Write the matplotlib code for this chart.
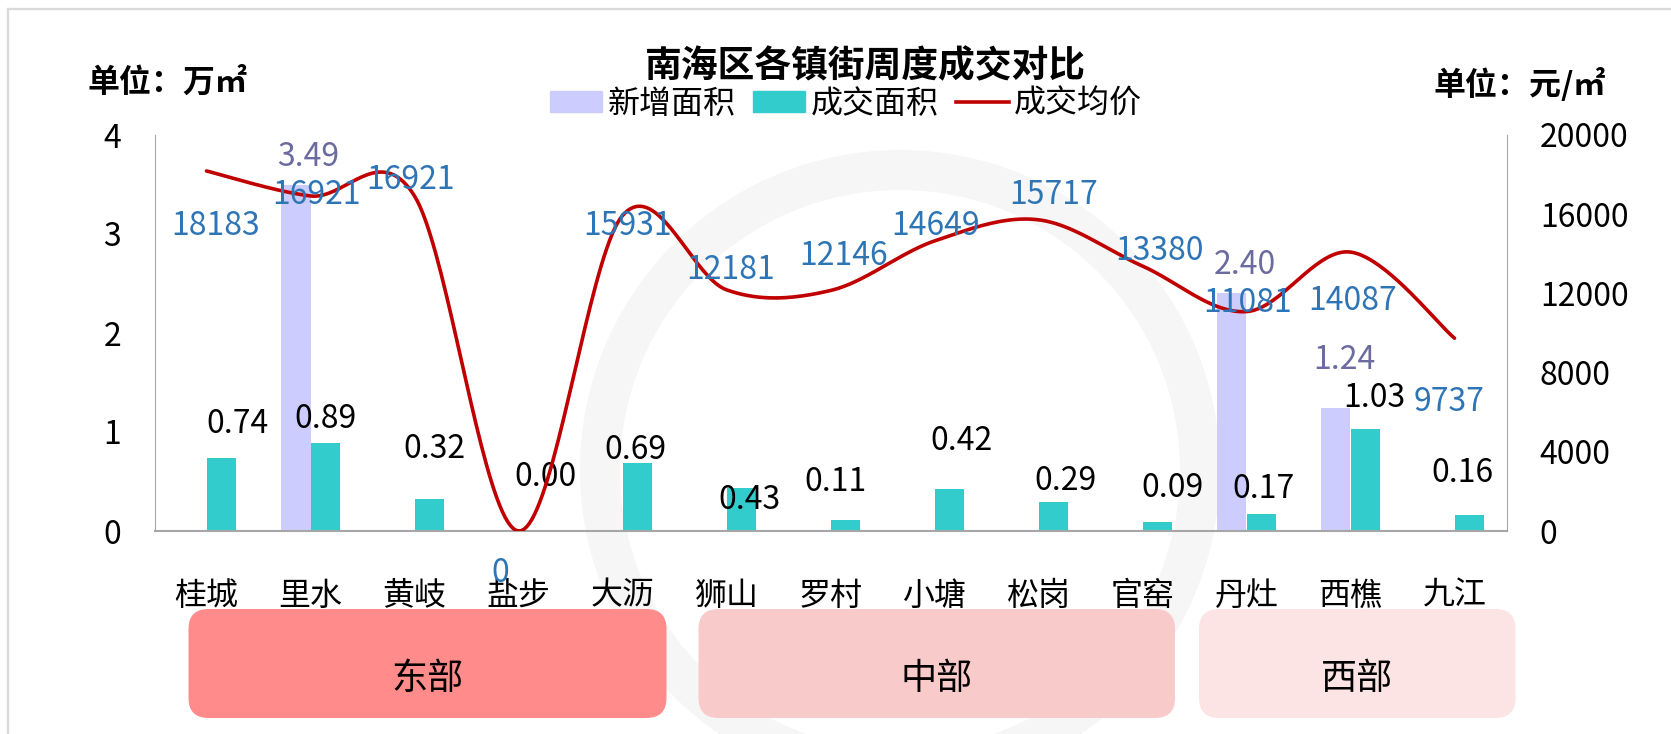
import numpy as np
import matplotlib
matplotlib.use("Agg")
import matplotlib.pyplot as plt
from matplotlib.patches import Patch, FancyBboxPatch, Circle
from matplotlib.lines import Line2D

plt.rcParams['font.family'] = ['Noto Sans CJK SC', 'DejaVu Sans']

# data
towns = ["桂城", "里水", "黄岐", "盐步", "大沥", "狮山", "罗村", "小塘", "松岗", "官窑", "丹灶", "西樵", "九江"]
new_area = [0, 3.49, 0, 0, 0, 0, 0, 0, 0, 0, 2.40, 1.24, 0]
deal_area = [0.74, 0.89, 0.32, 0.00, 0.69, 0.43, 0.11, 0.42, 0.29, 0.09, 0.17, 1.03, 0.16]
avg_price = [18183, 16921, 16921, 0, 15931, 12181, 12146, 14649, 15717, 13380, 11081, 14087, 9737]
regions = ["东部", "中部", "西部"]

# label offsets in pixels (dx, dy), dy down positive
deal_off = [(16, -34), (0, -24), (5, -50), (12, -54), (-2, -13), (8, 12), (-10, -38),
            (12, -48), (12, -21), (15, -34), (2, -25), (9, -31), (-7, -42)]
new_off = {1: (12, -28), 10: (13, -28), 11: (8, -48)}
price_off = [(9, 55), (6, -1), (-4, -16), (-18, 42), (5, 10), (4, -20), (13, -35),
             (1, -15), (15, -25), (17, -15), (1, -9), (2, 49), (-5, 64)]

W, H = 1671, 734
LAV = "#CCCCFF"
TEAL = "#33CCCC"
RED = "#C00000"
BLUE = "#2E75B6"
PURP = "#6B6B9F"
GRAY = "#A6A6A6"
FS = 23


def excel_smooth(xs, ys, n=40):
    # bezier curve through points, like excel's smoothed line
    pts = np.column_stack([xs, ys]).astype(float)
    out = []
    for i in range(len(pts) - 1):
        p0 = pts[i - 1] if i > 0 else pts[i]
        p1, p2 = pts[i], pts[i + 1]
        p3 = pts[i + 2] if i + 2 < len(pts) else pts[i + 1]
        c1 = p1 + (p2 - p0) / 6
        c2 = p2 - (p3 - p1) / 6
        t = np.linspace(0, 1, n)[:, None]
        seg = (1 - t) ** 3 * p1 + 3 * (1 - t) ** 2 * t * c1 + 3 * (1 - t) * t ** 2 * c2 + t ** 3 * p2
        out.append(seg if i == 0 else seg[1:])
    out = np.vstack(out)
    return out[:, 0], out[:, 1]


def px(v):
    return v * 0.72


fig = plt.figure(figsize=(W / 100, H / 100), dpi=100)

# faint watermark ring, behind everything
ring = Circle((900, H - 470), 300, transform=None, facecolor="none",
              edgecolor="#F6F6F6", linewidth=px(40), zorder=-5)
fig.patches.append(ring)

# border
fig.add_artist(Line2D([7.7 / W, 1], [1 - 9.3 / H, 1 - 9.3 / H], transform=fig.transFigure,
                      color="#D9D9D9", lw=1.6))
fig.add_artist(Line2D([7.7 / W, 7.7 / W], [0, 1 - 9.3 / H], transform=fig.transFigure,
                      color="#D9D9D9", lw=1.6))

ax = fig.add_axes([154.5 / W, 1 - 531 / H, (1506.5 - 154.5) / W, (531 - 135) / H])
ax.set_facecolor("none")
ax2 = ax.twinx()

x = np.arange(len(towns))
bw = 0.28
ax.bar(x - bw / 2, new_area, bw, color=LAV, zorder=2)
ax.bar(x + bw / 2, deal_area, bw, color=TEAL, zorder=2)

lx, ly = excel_smooth(x, avg_price)
ax2.plot(lx, ly, color=RED, lw=2.6, solid_capstyle="round", zorder=3)

ax.set_xlim(-0.5, len(towns) - 0.5)
ax.set_ylim(0, 4)
ax.set_yticks([0, 1, 2, 3, 4])
ax2.set_ylim(0, 20000)
ax2.set_yticks(range(0, 20001, 4000))
ax.set_xticks(x)
ax.set_xticklabels(towns, fontsize=23)

for a in (ax, ax2):
    for s in a.spines.values():
        s.set_visible(False)
ax.spines["left"].set_visible(True)
ax.spines["left"].set_color(GRAY)
ax.spines["bottom"].set_visible(True)
ax.spines["bottom"].set_color(GRAY)
ax.spines["bottom"].set_linewidth(1.5)
ax2.spines["right"].set_visible(True)
ax2.spines["right"].set_color(GRAY)

ax.tick_params(axis="x", length=0, pad=35)
ax.tick_params(axis="y", length=0, pad=24, labelsize=FS)
ax2.tick_params(axis="y", length=0, pad=24, labelsize=FS)

# data labels
for i, v in enumerate(deal_area):
    dx, dy = deal_off[i]
    ax.annotate(f"{v:.2f}", (x[i] + bw / 2, v), xytext=(px(dx), -px(dy)), textcoords="offset points",
                ha="center", va="center", fontsize=FS, color="black", zorder=5)
for i, (dx, dy) in new_off.items():
    ax.annotate(f"{new_area[i]:.2f}", (x[i] - bw / 2, new_area[i]), xytext=(px(dx), -px(dy)),
                textcoords="offset points", ha="center", va="center", fontsize=FS, color=PURP, zorder=5)
for i, v in enumerate(avg_price):
    dx, dy = price_off[i]
    ax2.annotate(f"{v}", (x[i], v), xytext=(px(dx), -px(dy)), textcoords="offset points",
                 ha="center", va="center", fontsize=FS, color=BLUE, zorder=5, annotation_clip=False)

# title, legend, units
fig.text(865 / W, 1 - 67 / H, "南海区各镇街周度成交对比", ha="center", va="center",
         fontsize=26.5, fontweight="bold")
handles = [Patch(color=LAV), Patch(color=TEAL), Line2D([], [], color=RED, lw=2.6)]
fig.legend(handles, ["新增面积", "成交面积", "成交均价"], loc="center",
           bbox_to_anchor=(846 / W, 1 - 104 / H), ncol=3, frameon=False, fontsize=23,
           handlelength=1.63, handleheight=0.63, handletextpad=0.16, columnspacing=0.56,
           borderpad=0, borderaxespad=0)
fig.text(87 / W, 1 - 83 / H, "单位：万㎡", ha="left", va="center", fontsize=23, fontweight="bold")
fig.text(1433 / W, 1 - 85 / H, "单位：元/㎡", ha="left", va="center", fontsize=23, fontweight="bold")

# region boxes
box_px = [(188.5, 666.5), (698.5, 1175), (1199, 1515.5)]
box_col = ["#FF8B8B", "#F9CACA", "#FDE4E4"]
by0, by1 = 609, 718
for (x0, x1), c, name in zip(box_px, box_col, regions):
    r = 20
    bb = FancyBboxPatch(((x0 + r) / W, 1 - (by1 - r) / H), (x1 - x0 - 2 * r) / W, (by1 - by0 - 2 * r) / H,
                        boxstyle=f"round,pad={r / W},rounding_size={r / W}",
                        transform=fig.transFigure, facecolor=c, edgecolor="none",
                        mutation_aspect=W / H)
    fig.patches.append(bb)
    fig.text((x0 + x1) / 2 / W, 1 - 679 / H, name, ha="center", va="center", fontsize=26)

fig.savefig("out.png", dpi=100)
